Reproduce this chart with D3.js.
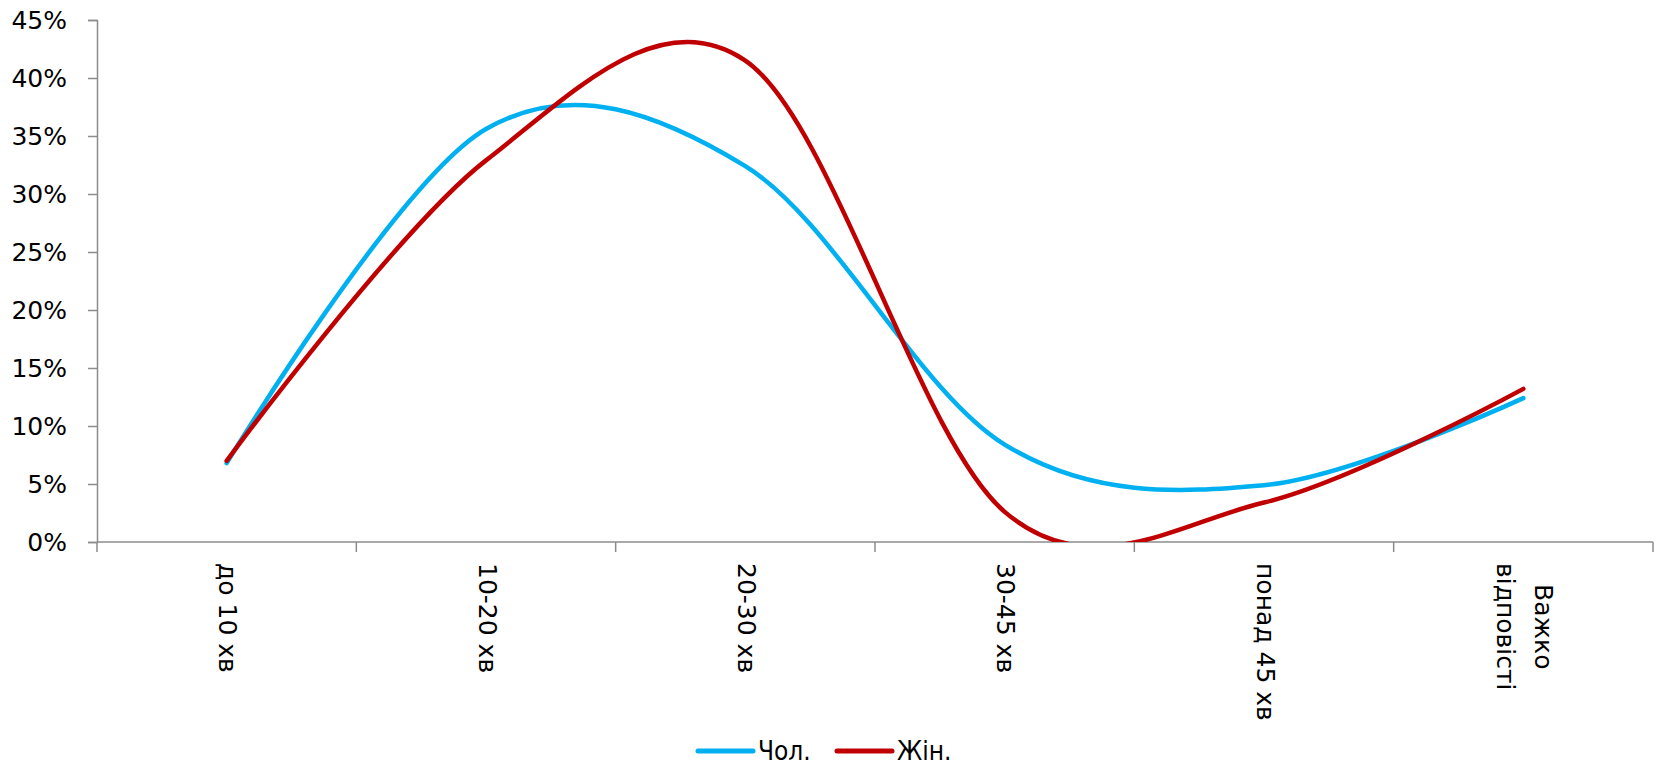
<!DOCTYPE html>
<html>
<head>
<meta charset="utf-8">
<script src="https://cdn.jsdelivr.net/npm/d3@7"></script>
<style>
  html, body { margin: 0; padding: 0; background: #fff; }
  svg { display: block; }
</style>
</head>
<body>
<svg id="chart" width="1660" height="765"></svg>
<script>
const categories = ["до 10 хв", "10-20 хв", "20-30 хв", "30-45 хв", "понад 45 хв", "Важко\nвідповісті"];
const seriesNames = ["Чол.", "Жін."];
const male = [0.068, 0.356, 0.324, 0.084, 0.049, 0.124];
const female = [0.070, 0.329, 0.415, 0.026, 0.034, 0.132];
const yTicks = [0, 0.05, 0.10, 0.15, 0.20, 0.25, 0.30, 0.35, 0.40, 0.45];
const colors = ["#00B0F0", "#C00000"];

(function () {
const svg = d3.select("#chart");
const mLeft = 97, mRight = 1653, mTop = 20, mBottom = 542;

const x = d3.scaleBand().domain(categories).range([mLeft, mRight]).padding(0);
const y = d3.scaleLinear().domain([0, 0.45]).range([mBottom, mTop]);
const cx = c => x(c) + x.bandwidth() / 2;

const axisColor = "#8c8c8c";
const font = "'DejaVu Sans', sans-serif";

// clip
svg.append("clipPath").attr("id", "plotclip")
  .append("rect").attr("x", mLeft).attr("y", mTop - 5)
  .attr("width", mRight - mLeft + 5).attr("height", mBottom - mTop + 5);

// Y axis
const yAxis = svg.append("g").attr("transform", `translate(${mLeft},0)`)
  .call(d3.axisLeft(y).tickValues(yTicks).tickFormat(d3.format(".0%")).tickSize(9).tickPadding(21));
yAxis.select(".domain").attr("stroke", axisColor).attr("stroke-width", 1.5);
yAxis.selectAll(".tick line").attr("stroke", axisColor).attr("stroke-width", 1.5);
yAxis.selectAll(".tick text").attr("font-family", font).attr("font-size", 25).attr("fill", "#000");

// X axis
const xAxisG = svg.append("g").attr("transform", `translate(0,${mBottom})`);
xAxisG.append("line").attr("x1", mLeft).attr("x2", mRight).attr("y1", 0).attr("y2", 0)
  .attr("stroke", axisColor).attr("stroke-width", 1.5);
const boundaries = categories.map(c => x(c)).concat([x(categories[categories.length - 1]) + x.bandwidth()]);
xAxisG.selectAll("line.tk").data(boundaries).enter().append("line").attr("class", "tk")
  .attr("x1", d => d).attr("x2", d => d).attr("y1", 0).attr("y2", 10)
  .attr("stroke", axisColor).attr("stroke-width", 1.5);

// X labels (rotated 90deg)
const labelTop = 563;
const lineGap = 38;
categories.forEach(c => {
  const lines = c.split("\n");
  const g = svg.append("g");
  const texts = lines.map(ln => g.append("text").text(ln)
      .attr("font-family", font).attr("font-size", 25).attr("fill", "#000"));
  const maxLen = d3.max(texts, t => t.node().getComputedTextLength());
  texts.forEach((t, i) => {
    const off = (i - (lines.length - 1) / 2) * lineGap;
    const px = cx(c) - off;
    const py = labelTop + maxLen / 2;
    t.attr("text-anchor", "middle").attr("dy", "0.3em")
      .attr("transform", `translate(${px},${py}) rotate(90)`);
  });
});

// Lines
const line = d3.line()
  .x((d, i) => cx(categories[i]))
  .y(d => y(d))
  .curve(d3.curveCardinal.tension(0));

const plot = svg.append("g").attr("clip-path", "url(#plotclip)");
[male, female].forEach((s, k) => {
  plot.append("path").datum(s).attr("d", line)
    .attr("fill", "none").attr("stroke", colors[k]).attr("stroke-width", 4.5)
    .attr("stroke-linecap", "round").attr("stroke-linejoin", "round");
});

// Legend
const legendItems = [{name: seriesNames[0], x: 698}, {name: seriesNames[1], x: 837}];
const leg = svg.append("g");
legendItems.forEach((it, k) => {
  leg.append("line").attr("x1", it.x).attr("x2", it.x + 55).attr("y1", 751).attr("y2", 751)
    .attr("stroke", colors[k]).attr("stroke-width", 5).attr("stroke-linecap", "round");
  leg.append("text").text(it.name).attr("x", it.x + 60).attr("y", 760)
    .attr("font-family", "'DejaVu Sans Condensed', 'DejaVu Sans', sans-serif")
    .attr("font-stretch", "condensed")
    .attr("font-size", 26).attr("fill", "#000");
});
})();
</script>
</body>
</html>
